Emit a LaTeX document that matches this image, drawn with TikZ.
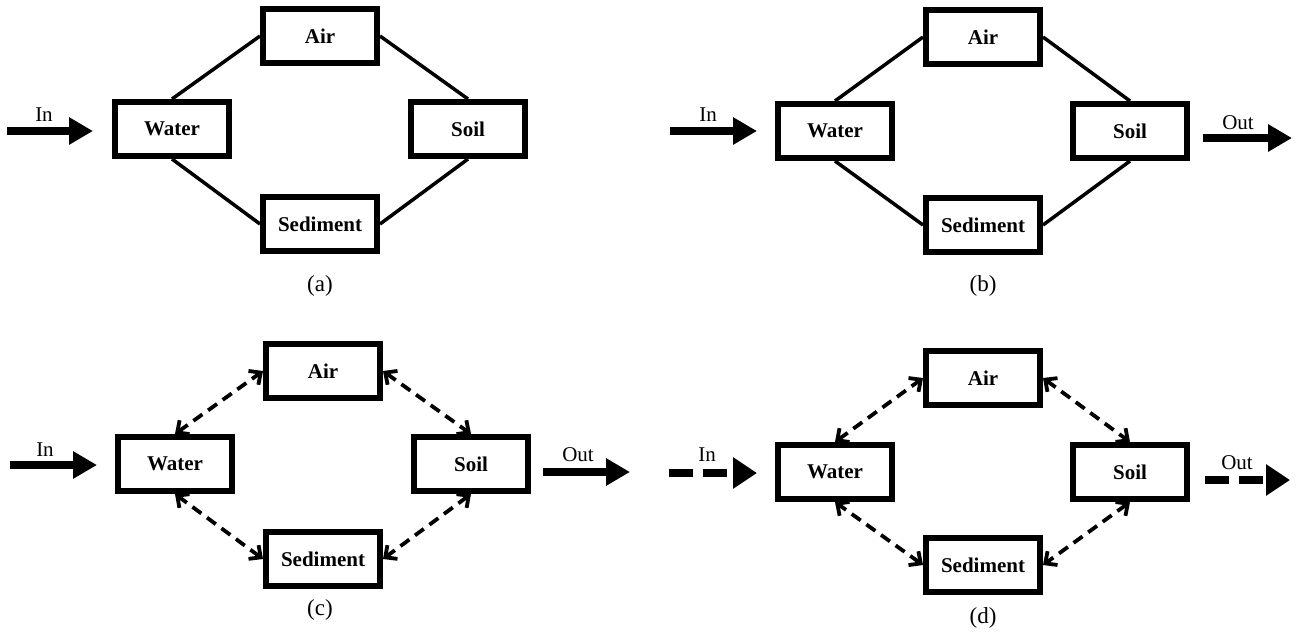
\documentclass[tikz,border=0pt]{standalone}
\usepackage{fontspec}
\setmainfont{Liberation Serif}
\usetikzlibrary{arrows.meta}

\tikzset{
  compartment/.style={draw, line width=6pt, minimum width=114pt, minimum height=54pt,
    inner sep=0pt, font=\fontsize{21}{25}\selectfont\bfseries},
  link/.style={line width=3.5pt},
  exchange/.style={line width=3.8pt, dash pattern=on 11pt off 7pt,
    {Straight Barb[length=9pt,width=17pt]}-{Straight Barb[length=9pt,width=17pt]}},
  feed/.style={line width=7.5pt, -{Triangle[length=24pt,width=26pt]}},
  dashedfeed/.style={line width=7.5pt, dash pattern=on 24pt off 10pt,
    -{Triangle[length=24pt,width=30pt]}},
  flowtag/.style={font=\fontsize{21}{25}\selectfont, inner sep=0pt},
  panellabel/.style={font=\fontsize{23}{27}\selectfont, inner sep=0pt}
}

\begin{document}
\begin{tikzpicture}[x=1pt,y=-1pt]
\useasboundingbox (0,0) rectangle (1297,633);

% (a)
\node[compartment] (waterA) at (172,129) {Water};
\node[compartment] (airA) at (320,36) {Air};
\node[compartment] (soilA) at (468,129) {Soil};
\node[compartment] (sedA) at (320,224) {Sediment};
\draw[link] (waterA.north) -- (airA.west);
\draw[link] (airA.east) -- (soilA.north);
\draw[link] (soilA.south) -- (sedA.east);
\draw[link] (sedA.west) -- (waterA.south);
\coordinate (inA0) at (7,131);
\coordinate (inA1) at (93,131);
\draw[feed] (inA0) -- (inA1);
\node[flowtag] (inAtxt) at (44,115) {In};
\node[panellabel] (capA) at (320,286) {(a)};

% (b)
\node[compartment] (waterB) at (835,131) {Water};
\node[compartment] (airB) at (983,37) {Air};
\node[compartment] (soilB) at (1130,131) {Soil};
\node[compartment] (sedB) at (983,225) {Sediment};
\draw[link] (waterB.north) -- (airB.west);
\draw[link] (airB.east) -- (soilB.north);
\draw[link] (soilB.south) -- (sedB.east);
\draw[link] (sedB.west) -- (waterB.south);
\coordinate (inB0) at (670,131);
\coordinate (inB1) at (757,131);
\draw[feed] (inB0) -- (inB1);
\node[flowtag] (inBtxt) at (708,115) {In};
\coordinate (outB0) at (1203,138);
\coordinate (outB1) at (1292,138);
\draw[feed] (outB0) -- (outB1);
\node[flowtag] (outBtxt) at (1238,123) {Out};
\node[panellabel] (capB) at (983,286) {(b)};

% (c)
\node[compartment] (waterC) at (175,464) {Water};
\node[compartment] (airC) at (323,371) {Air};
\node[compartment] (soilC) at (471,464) {Soil};
\node[compartment] (sedC) at (323,559) {Sediment};
\draw[exchange] (waterC.north) -- (airC.west);
\draw[exchange] (airC.east) -- (soilC.north);
\draw[exchange] (soilC.south) -- (sedC.east);
\draw[exchange] (sedC.west) -- (waterC.south);
\coordinate (inC0) at (10,465);
\coordinate (inC1) at (97,465);
\draw[feed] (inC0) -- (inC1);
\node[flowtag] (inCtxt) at (45,450) {In};
\coordinate (outC0) at (543,472);
\coordinate (outC1) at (630,472);
\draw[feed] (outC0) -- (outC1);
\node[flowtag] (outCtxt) at (578,455) {Out};
\node[panellabel] (capC) at (320,610) {(c)};

% (d)
\node[compartment] (waterD) at (835,472) {Water};
\node[compartment] (airD) at (983,378) {Air};
\node[compartment] (soilD) at (1130,472) {Soil};
\node[compartment] (sedD) at (983,565) {Sediment};
\draw[exchange] (waterD.north) -- (airD.west);
\draw[exchange] (airD.east) -- (soilD.north);
\draw[exchange] (soilD.south) -- (sedD.east);
\draw[exchange] (sedD.west) -- (waterD.south);
\coordinate (inD0) at (669,473);
\coordinate (inD1) at (757,473);
\draw[dashedfeed] (inD0) -- (inD1);
\node[flowtag] (inDtxt) at (707,455) {In};
\coordinate (outD0) at (1205,480);
\coordinate (outD1) at (1290,480);
\draw[dashedfeed] (outD0) -- (outD1);
\node[flowtag] (outDtxt) at (1237,463) {Out};
\node[panellabel] (capD) at (983,618) {(d)};
\end{tikzpicture}
\end{document}
